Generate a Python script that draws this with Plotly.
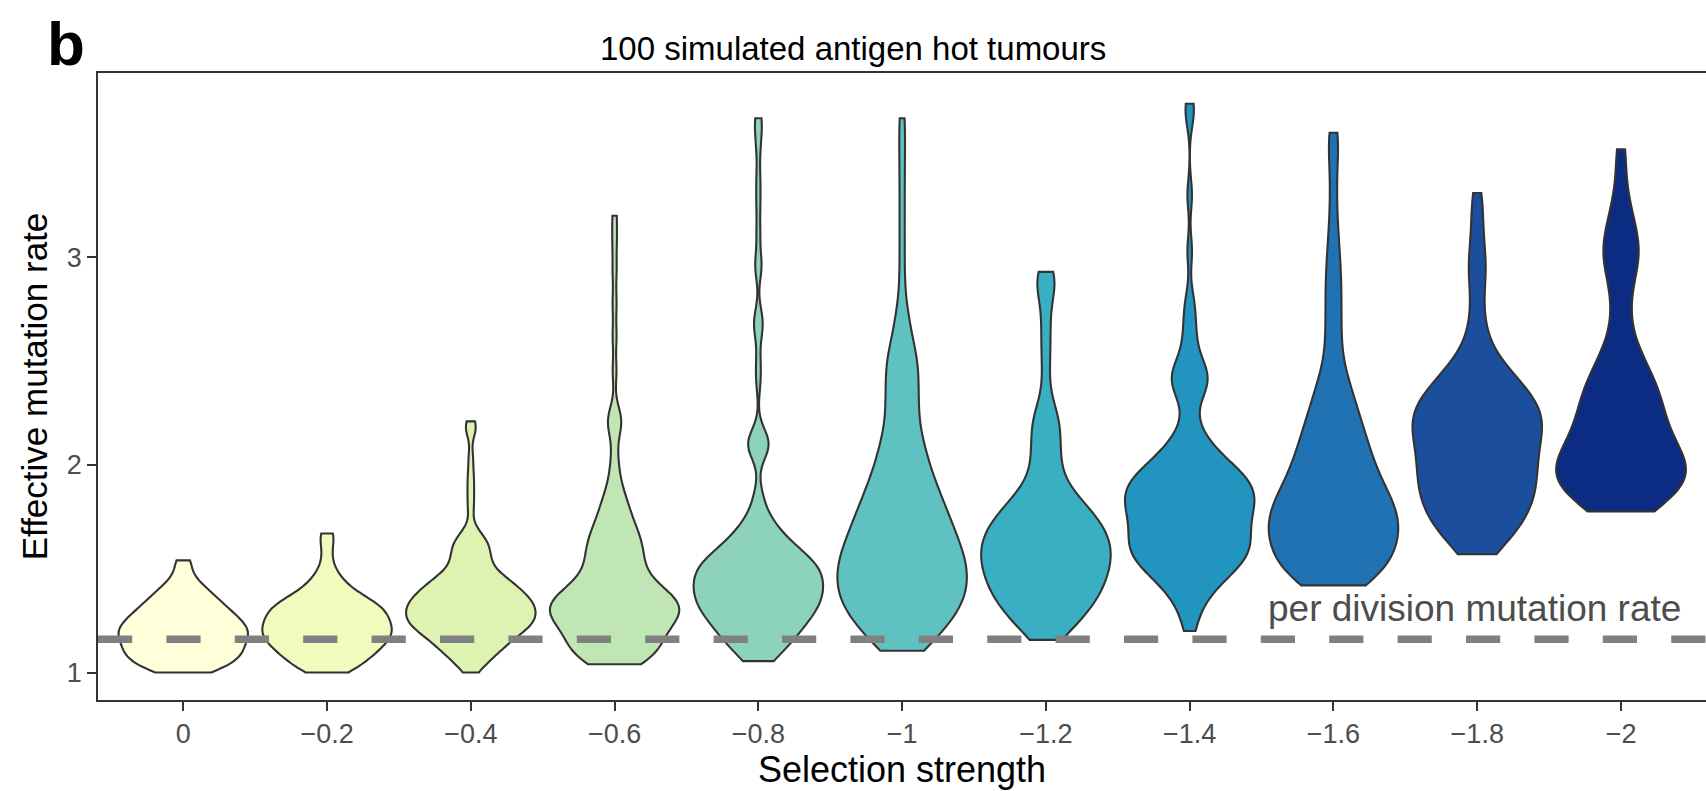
import numpy as np
import plotly.graph_objects as go

# Selection strength groups, left to right
strength_labels = ["0", "−0.2", "−0.4", "−0.6", "−0.8", "−1",
                   "−1.2", "−1.4", "−1.6", "−1.8", "−2"]

# Effective mutation rate of simulated tumours, tabulated as (rate, number of tumours)
rate_s00 = [(1.00, 5), (1.03, 7), (1.06, 8), (1.09, 9), (1.12, 9), (1.15, 9), (1.18, 10),
            (1.21, 10), (1.24, 9), (1.27, 8), (1.30, 7), (1.33, 6), (1.36, 5), (1.39, 4),
            (1.42, 3), (1.45, 2), (1.48, 1), (1.51, 1), (1.54, 2)]
rate_s02 = [(1.00, 4), (1.03, 5), (1.06, 6), (1.09, 7), (1.12, 8), (1.15, 9), (1.18, 10),
            (1.21, 10), (1.24, 9), (1.27, 9), (1.30, 9), (1.33, 8), (1.36, 6), (1.39, 4),
            (1.42, 3), (1.45, 2), (1.48, 2), (1.52, 1), (1.56, 1), (1.60, 1), (1.64, 1),
            (1.67, 2)]
rate_s04 = [(1.00, 1), (1.03, 2), (1.06, 3), (1.09, 4), (1.12, 5), (1.15, 6), (1.18, 7),
            (1.21, 9), (1.24, 10), (1.27, 10), (1.30, 10), (1.33, 10), (1.36, 9), (1.39, 8),
            (1.42, 7), (1.45, 6), (1.48, 4), (1.51, 3), (1.54, 3), (1.57, 3), (1.60, 3),
            (1.63, 3), (1.66, 2), (1.69, 1), (1.78, 1), (1.84, 1), (1.90, 1), (1.96, 1),
            (2.04, 1), (2.17, 2), (2.21, 1)]
rate_s06 = [(1.04, 5), (1.08, 6), (1.12, 7), (1.16, 6), (1.20, 7), (1.24, 8), (1.28, 10),
            (1.32, 10), (1.36, 9), (1.40, 7), (1.44, 5), (1.48, 4), (1.52, 4), (1.56, 4),
            (1.60, 4), (1.64, 4), (1.68, 3), (1.72, 3), (1.76, 2), (1.80, 2), (1.84, 2),
            (1.88, 1), (1.93, 1), (1.98, 1), (2.06, 1), (2.18, 2), (2.24, 2), (2.45, 1),
            (2.62, 1), (2.78, 1), (2.94, 1), (3.08, 1), (3.20, 1)]
rate_s08 = [(1.055, 3), (1.10, 4), (1.14, 5), (1.18, 6), (1.22, 7), (1.26, 8), (1.30, 9),
            (1.34, 10), (1.38, 10), (1.42, 10), (1.46, 10), (1.50, 10), (1.54, 9), (1.58, 7),
            (1.62, 5), (1.66, 4), (1.70, 3), (1.74, 2), (1.78, 1), (1.82, 1), (1.87, 1),
            (2.06, 2), (2.10, 3), (2.14, 2), (2.40, 1), (2.50, 1), (2.64, 1), (2.68, 1),
            (2.72, 1), (2.94, 1), (2.98, 1), (3.12, 1), (3.26, 1), (3.38, 1), (3.53, 1),
            (3.63, 1), (3.67, 1)]
rate_s10 = [(1.105, 3), (1.15, 4), (1.20, 5), (1.25, 6), (1.30, 7), (1.35, 8), (1.40, 8),
            (1.45, 8), (1.50, 8), (1.55, 8), (1.60, 7), (1.65, 7), (1.70, 6), (1.75, 6),
            (1.80, 5), (1.85, 5), (1.90, 4), (1.95, 4), (2.00, 3), (2.05, 3), (2.10, 3),
            (2.15, 2), (2.20, 2), (2.25, 2), (2.30, 2), (2.35, 2), (2.40, 2), (2.45, 2),
            (2.50, 2), (2.55, 2), (2.60, 1), (2.65, 1), (2.70, 1), (2.76, 1), (2.90, 1),
            (3.06, 1), (3.22, 1), (3.38, 1), (3.53, 1), (3.67, 1)]
rate_s12 = [(1.157, 2), (1.20, 3), (1.25, 5), (1.30, 6), (1.35, 7), (1.40, 8), (1.45, 8),
            (1.50, 9), (1.55, 9), (1.60, 9), (1.65, 9), (1.70, 8), (1.75, 7), (1.80, 6),
            (1.85, 4), (1.90, 3), (1.95, 2), (2.00, 2), (2.05, 2), (2.10, 2), (2.15, 2),
            (2.20, 2), (2.25, 2), (2.30, 1), (2.40, 1), (2.50, 1), (2.58, 1), (2.66, 1),
            (2.74, 1), (2.82, 1), (2.87, 2), (2.93, 2)]
rate_s14 = [(1.20, 1), (1.25, 1), (1.30, 1), (1.35, 2), (1.40, 3), (1.45, 4), (1.50, 6),
            (1.55, 7), (1.60, 8), (1.65, 7), (1.70, 7), (1.75, 7), (1.80, 8), (1.85, 8),
            (1.90, 8), (1.95, 7), (2.00, 5), (2.05, 4), (2.10, 2), (2.15, 2), (2.20, 1),
            (2.28, 1), (2.34, 2), (2.39, 2), (2.43, 3), (2.48, 2), (2.54, 1), (2.60, 1),
            (2.66, 1), (2.73, 1), (2.80, 1), (3.03, 1), (3.30, 1), (3.68, 1), (3.74, 1)]
rate_s16 = [(1.42, 4), (1.46, 5), (1.50, 5), (1.55, 6), (1.60, 7), (1.65, 7), (1.70, 7),
            (1.75, 7), (1.80, 7), (1.85, 6), (1.90, 5), (1.95, 5), (2.00, 4), (2.05, 4),
            (2.10, 4), (2.15, 3), (2.20, 3), (2.25, 3), (2.30, 2), (2.35, 2), (2.40, 2),
            (2.45, 1), (2.50, 1), (2.56, 1), (2.62, 1), (2.68, 1), (2.74, 1), (2.80, 1),
            (2.86, 1), (2.92, 1), (2.98, 1), (3.06, 1), (3.15, 1), (3.28, 1), (3.42, 1),
            (3.54, 1), (3.60, 1)]
rate_s18 = [(1.57, 2), (1.62, 3), (1.67, 4), (1.72, 5), (1.77, 5), (1.82, 6), (1.87, 6),
            (1.92, 6), (1.97, 6), (2.02, 6), (2.07, 6), (2.12, 6), (2.17, 7), (2.22, 7),
            (2.27, 7), (2.32, 6), (2.37, 5), (2.42, 4), (2.47, 3), (2.52, 2), (2.57, 1),
            (2.62, 1), (2.68, 1), (2.74, 1), (2.84, 1), (2.90, 1), (2.95, 1), (3.00, 1),
            (3.05, 1), (3.15, 1), (3.23, 1), (3.31, 1)]
rate_s20 = [(1.776, 3), (1.82, 4), (1.86, 5), (1.90, 6), (1.95, 7), (2.00, 7), (2.05, 6),
            (2.10, 5), (2.15, 4), (2.20, 4), (2.25, 4), (2.30, 4), (2.35, 4), (2.40, 3),
            (2.45, 3), (2.50, 2), (2.55, 2), (2.60, 1), (2.66, 1), (2.72, 1), (2.78, 1),
            (2.84, 1), (2.89, 1), (2.95, 2), (3.00, 2), (3.05, 2), (3.10, 2), (3.15, 1),
            (3.20, 1), (3.25, 1), (3.30, 1), (3.45, 1), (3.52, 1)]

rate_tables = [rate_s00, rate_s02, rate_s04, rate_s06, rate_s08, rate_s10,
               rate_s12, rate_s14, rate_s16, rate_s18, rate_s20]

# Kernel bandwidth used for each group's density estimate
kde_bandwidth = [0.04, 0.045, 0.045, 0.065, 0.065, 0.09, 0.08, 0.075, 0.10, 0.10, 0.11]

# Reference level: mutation rate per cell division
per_division_rate = 1.16

# YlGnBu ramp, one shade per group
fill_colours = ["#FFFFD9", "#F2FABD", "#DEF2B2", "#C0E6B5", "#8DD3BA", "#60C2C0",
                "#3AAFC3", "#2195C0", "#2072B2", "#1B4F9D", "#0C2C84"]

FONT = "Liberation Sans, Arial, Helvetica, sans-serif"
INK = "#333333"
TICK_TEXT = "#4D4D4D"

fig = go.Figure()
for i, table in enumerate(rate_tables):
    values = np.array([v for v, _ in table])
    counts = np.array([c for _, c in table])
    samples = np.repeat(values, counts)
    fig.add_trace(go.Violin(
        x=np.full(samples.size, i, dtype=float),
        y=samples,
        name=strength_labels[i],
        width=0.9,
        scalemode="width",
        spanmode="hard",
        bandwidth=kde_bandwidth[i],
        fillcolor=fill_colours[i],
        opacity=1,
        line=dict(color=INK, width=2.1),
        points=False,
        box_visible=False,
        meanline_visible=False,
        showlegend=False,
        hoverinfo="y",
    ))

# dashed reference line across the panel
fig.add_shape(type="line", xref="paper", x0=0, x1=1, yref="y",
              y0=per_division_rate, y1=per_division_rate,
              line=dict(color="#808080", width=7.5, dash="34.2px,34.2px"),
              layer="above")

fig.add_annotation(text="per division mutation rate", xref="x", yref="y",
                   x=10.43, y=per_division_rate + 0.15, xanchor="right", yanchor="middle",
                   showarrow=False, font=dict(family=FONT, size=37, color=TICK_TEXT))

# title centred on the full figure width
fig.add_annotation(text="100 simulated antigen hot tumours", xref="paper", yref="paper",
                   x=0.4695, y=1.0, xanchor="center", yanchor="bottom", yshift=4,
                   showarrow=False, font=dict(family=FONT, size=33, color="black"))

fig.add_annotation(text="<b>b</b>", xref="paper", yref="paper",
                   x=-0.033, y=1.105, xanchor="left", yanchor="top",
                   showarrow=False, font=dict(family=FONT, size=62, color="black"))

axis_common = dict(
    showline=True, mirror=True, linecolor=INK, linewidth=1.8,
    ticks="outside", ticklen=9, tickwidth=2, tickcolor=INK,
    tickfont=dict(family=FONT, size=27, color=TICK_TEXT),
    showgrid=False, zeroline=False, automargin=False,
)

fig.update_layout(
    width=1706, height=791,
    margin=dict(l=98, r=0, t=73, b=91, autoexpand=False),
    plot_bgcolor="white", paper_bgcolor="white",
    violinmode="overlay",
    showlegend=False,
    font=dict(family=FONT),
    xaxis=dict(
        type="linear", range=[-0.593, 10.591],
        tickmode="array", tickvals=list(range(len(strength_labels))),
        ticktext=strength_labels,
        title=dict(text="Selection strength", standoff=6,
                   font=dict(family=FONT, size=36, color="black")),
        **axis_common,
    ),
    yaxis=dict(
        range=[0.8676, 3.888],
        tickmode="array", tickvals=[1, 2, 3], ticktext=["1", "2", "3"],
        title=dict(text="Effective mutation rate", standoff=8,
                   font=dict(family=FONT, size=35, color="black")),
        **axis_common,
    ),
)

fig.write_html("out.html")
